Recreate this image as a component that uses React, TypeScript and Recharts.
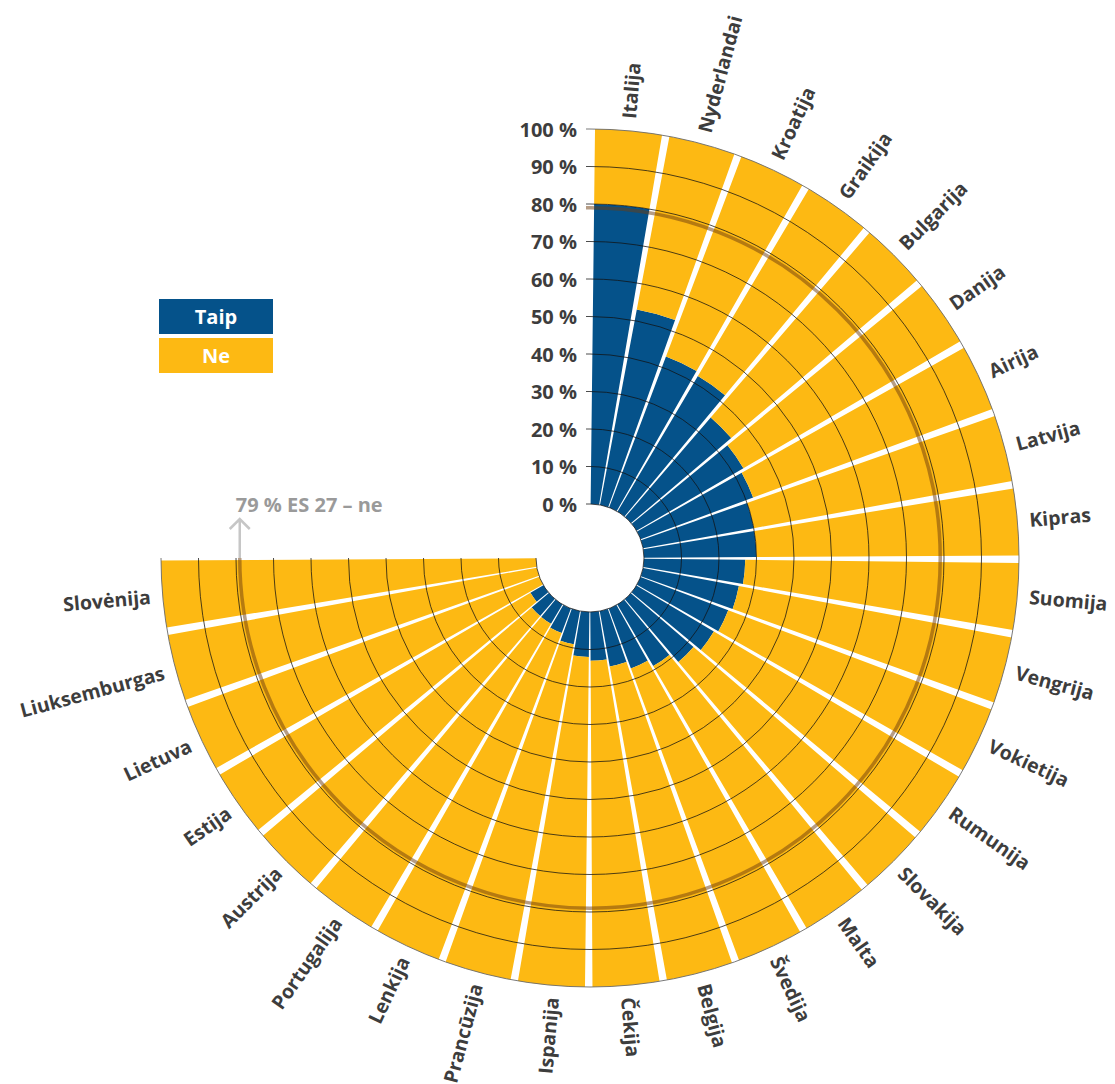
import React from 'react';
import { RadialBarChart, RadialBar, PolarAngleAxis, PolarRadiusAxis, Legend } from 'recharts';

const countries = [
  'Italija', 'Nyderlandai', 'Kroatija', 'Graikija', 'Bulgarija', 'Danija', 'Airija', 'Latvija', 'Kipras',
  'Suomija', 'Vengrija', 'Vokietija', 'Rumunija', 'Slovakija', 'Malta', 'Švedija', 'Belgija', 'Čekija',
  'Ispanija', 'Prancūzija', 'Lenkija', 'Portugalija', 'Austrija', 'Estija', 'Lietuva', 'Liuksemburgas', 'Slovėnija',
];
const taip = [80, 53, 43, 42, 35, 33, 32, 30, 30, 27, 26, 25, 24, 22, 19, 17, 15, 13, 12, 9, 7, 6, 6, 4, 0, 0, 0];
const ne = [20, 47, 57, 58, 65, 67, 68, 70, 70, 73, 74, 75, 76, 78, 81, 83, 85, 87, 88, 91, 93, 94, 94, 96, 100, 100, 100];
const percentTicks = [0, 10, 20, 30, 40, 50, 60, 70, 80, 90, 100];
const averageTicks = [79];
const averageLabel = '79 % ES 27 – ne';
const seriesNames = ['Taip', 'Ne'];

const data = countries.map((c, i) => ({ country: c, taip: taip[i], ne: ne[i] }));
const axisTicks = [...percentTicks, ...averageTicks].sort((a, b) => a - b);

const W = 1115;
const H = 1084;
const CX = 590;
const CY = 558;
const INNER = 54;
const OUTER = 429;
const START = 80;
const END = -190;
const HALF_BAND = (START - END) / countries.length / 2;
const BLUE = '#05528a';
const YELLOW = '#fdb913';
const TEXT = '#3d3d3d';
const FONT = '"Open Sans", sans-serif';

function CountryTick(props: any) {
  const { x, y, payload } = props;
  const cx = props.cx ?? CX;
  const cy = props.cy ?? CY;
  const deg0 = (Math.atan2(cy - y, x - cx) * 180) / Math.PI + HALF_BAND;
  const deg = deg0 > 180 ? deg0 - 360 : deg0;
  const ang = (deg * Math.PI) / 180;
  const rr = OUTER + 12;
  const tx = cx + rr * Math.cos(ang);
  const ty = cy - rr * Math.sin(ang);
  const right = deg > -90 && deg <= 90;
  const rot = right ? -deg : deg < -90 ? -(deg + 180) : -(deg - 180);
  return (
    <text
      x={tx}
      y={ty}
      transform={`rotate(${rot}, ${tx}, ${ty})`}
      textAnchor={right ? 'start' : 'end'}
      dominantBaseline="central"
      fill={TEXT}
      fontFamily={FONT}
      fontWeight={700}
      fontSize={19.5}
    >
      {payload.value}
    </text>
  );
}

function AxisTick(props: any) {
  const { x, y, payload } = props;
  const cx = props.cx ?? CX;
  const cy = props.cy ?? CY;
  const r = cy - y;
  if (averageTicks.includes(payload.value)) {
    const ax = cx - r;
    return (
      <g>
        <path
          d={`M ${x - 4} ${y} L ${x} ${y} A ${r} ${r} 0 1 1 ${ax} ${cy}`}
          fill="none"
          stroke="#6e3c0e"
          strokeOpacity={0.5}
          strokeWidth={3.5}
        />
        <path
          d={`M ${ax} ${cy} L ${ax} ${cy - 39} M ${ax - 10} ${cy - 29} L ${ax} ${cy - 39} L ${ax + 10} ${cy - 29}`}
          fill="none"
          stroke="#c6c6c6"
          strokeWidth={2.5}
        />
        <text
          x={ax - 4}
          y={cy - 54}
          textAnchor="start"
          dominantBaseline="central"
          fill="#9a9a9a"
          fontFamily={FONT}
          fontWeight={700}
          fontSize={20}
        >
          {averageLabel}
        </text>
      </g>
    );
  }
  const isEdge = payload.value === 100;
  return (
    <g>
      <path
        d={`M ${x - 4} ${y} L ${x} ${y} A ${r} ${r} 0 1 1 ${cx - r} ${cy}`}
        fill="none"
        stroke={isEdge ? '#6a6a6a' : '#111'}
        strokeOpacity={isEdge ? 0.9 : 0.75}
        strokeWidth={1}
      />
      <text
        x={x - 13}
        y={y}
        textAnchor="end"
        dominantBaseline="central"
        fill={TEXT}
        fontFamily={FONT}
        fontWeight={700}
        fontSize={20}
      >
        {`${payload.value} %`}
      </text>
    </g>
  );
}

function LegendBox() {
  const colors = [BLUE, YELLOW];
  return (
    <div style={{ width: 114 }}>
      {seriesNames.map((n, i) => (
        <div
          key={n}
          style={{
            background: colors[i],
            color: '#fff',
            height: 35,
            marginBottom: 4,
            display: 'flex',
            alignItems: 'center',
            justifyContent: 'center',
            fontFamily: FONT,
            fontWeight: 700,
            fontSize: 20,
          }}
        >
          {n}
        </div>
      ))}
    </div>
  );
}

export default function App() {
  return (
    <div style={{ position: 'absolute', left: 0, top: 0, width: W, height: H, background: '#fff' }}>
      <RadialBarChart
        width={W}
        height={H}
        data={data}
        cx={CX}
        cy={CY}
        innerRadius={INNER}
        outerRadius={OUTER}
        startAngle={START}
        endAngle={END}
        layout="centric"
        barCategoryGap="3.3%"
        margin={{ top: 0, right: 0, bottom: 0, left: 0 }}
      >
        <RadialBar dataKey="taip" stackId="s" fill={BLUE} isAnimationActive={false} legendType="none" />
        <RadialBar dataKey="ne" stackId="s" fill={YELLOW} isAnimationActive={false} legendType="none" />
        <PolarAngleAxis
          type="category"
          dataKey="country"
          axisLine={false}
          tickLine={false}
          tick={<CountryTick />}
        />
        <PolarRadiusAxis
          type="number"
          domain={[0, 100]}
          ticks={axisTicks}
          angle={90}
          axisLine={false}
          tickLine={false}
          tick={<AxisTick />}
        />
        <Legend
          content={() => <LegendBox />}
          wrapperStyle={{ position: 'absolute', left: 159, top: 299, width: 114, bottom: 'auto' }}
        />
      </RadialBarChart>
    </div>
  );
}
